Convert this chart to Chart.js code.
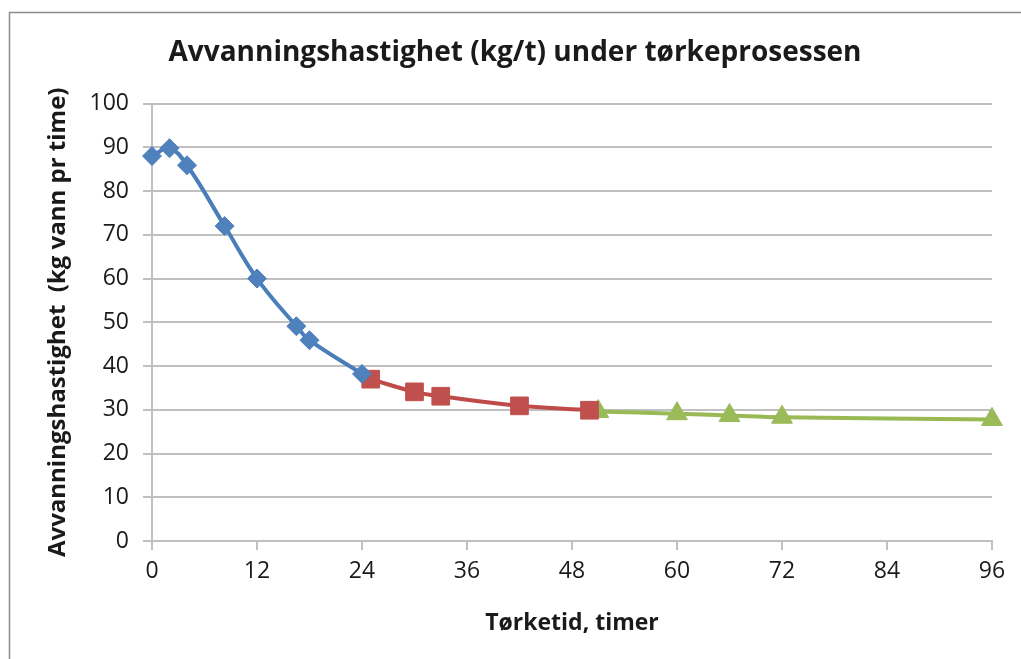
<!DOCTYPE html>
<html>
<head>
<meta charset="utf-8">
<script src="https://cdn.jsdelivr.net/npm/chart.js@4/dist/chart.umd.min.js"></script>
<style>
  html, body { margin: 0; padding: 0; background: #fff; }
  #wrap { width: 1021px; height: 659px; position: relative; }
</style>
</head>
<body>
<div id="wrap"><canvas id="chart" width="1021" height="659"></canvas></div>
<script>
// Fase 1: rask avvanning
const phase1Hours = [0, 2, 4, 8.3, 12, 16.5, 18, 24];
const phase1Rate = [88, 89.8, 85.9, 72, 60, 49.1, 45.9, 38.2];
// Fase 2
const phase2Hours = [25, 30, 33, 42, 50];
const phase2Rate = [37, 34.1, 33.1, 30.9, 29.9];
// Fase 3: nesten flat
const phase3Hours = [51, 60, 66, 72, 96];
const phase3Rate = [29.6, 29.1, 28.7, 28.3, 27.8];

const xTicks = [0, 12, 24, 36, 48, 60, 72, 84, 96];
const yTicks = [0, 10, 20, 30, 40, 50, 60, 70, 80, 90, 100];

const toPoints = (xs, ys) => xs.map((x, i) => ({ x, y: ys[i] }));

const fontFamily = '"Open Sans", Lato, sans-serif';
const gridColor = '#c0c0c0';
const textColor = '#1a1a1a';

const frame = {
  id: 'frame',
  beforeDraw(chart) {
    const { ctx } = chart;
    ctx.save();
    ctx.strokeStyle = '#8c8c8c';
    ctx.lineWidth = 1.5;
    ctx.beginPath();
    ctx.moveTo(9.5, 700);
    ctx.lineTo(9.5, 12.5);
    ctx.lineTo(1100, 12.5);
    ctx.stroke();
    ctx.restore();
  },
};

const ctx = document.getElementById('chart');

new Chart(ctx, {
  type: 'scatter',
  data: {
    datasets: [
      {
        label: 'Fase 1',
        data: toPoints(phase1Hours, phase1Rate),
        showLine: true,
        clip: false,
        borderColor: '#4A7EBB',
        backgroundColor: '#4F81BD',
        borderWidth: 4,
        tension: 0.4,
        pointStyle: 'rectRot',
        pointRadius: 9.5,
        pointBorderWidth: 1,
        pointBorderColor: '#4F81BD',
      },
      {
        label: 'Fase 2',
        data: toPoints(phase2Hours, phase2Rate),
        showLine: true,
        clip: false,
        borderColor: '#BE4B48',
        backgroundColor: '#C0504D',
        borderWidth: 4,
        tension: 0.4,
        pointStyle: 'rect',
        pointRadius: 12.5,
        pointBorderWidth: 1,
        pointBorderColor: '#C0504D',
      },
      {
        label: 'Fase 3',
        data: toPoints(phase3Hours, phase3Rate),
        showLine: true,
        clip: false,
        borderColor: '#98B954',
        backgroundColor: '#9BBB59',
        borderWidth: 4,
        tension: 0.4,
        pointStyle: 'triangle',
        pointRadius: 12,
        pointBorderWidth: 1,
        pointBorderColor: '#9BBB59',
      },
    ],
  },
  options: {
    responsive: false,
    animation: false,
    layout: { padding: { left: 38, right: 29, top: 0, bottom: 0 } },
    plugins: {
      legend: { display: false },
      tooltip: { enabled: false },
      title: {
        display: true,
        text: 'Avvanningshastighet (kg/t) under tørkeprosessen',
        color: textColor,
        font: { family: fontFamily, size: 28, weight: 'bold' },
        padding: { top: 36, bottom: 34 },
      },
    },
    scales: {
      x: {
        type: 'linear',
        min: 0,
        max: 96,
        afterBuildTicks: (scale) => { scale.ticks = xTicks.map((v) => ({ value: v })); },
        afterFit: (scale) => { scale.height = 118; },
        grid: { drawOnChartArea: false, drawTicks: true, tickLength: 9, color: gridColor, lineWidth: 2 },
        border: { color: gridColor, width: 2 },
        ticks: { color: textColor, font: { family: fontFamily, size: 23 }, padding: 8, maxRotation: 0 },
        title: {
          display: true,
          text: 'Tørketid, timer',
          color: textColor,
          font: { family: fontFamily, size: 23, weight: 'bold' },
          padding: { top: 0, bottom: 22 },
        },
      },
      y: {
        type: 'linear',
        min: 0,
        max: 100,
        afterBuildTicks: (scale) => { scale.ticks = yTicks.map((v) => ({ value: v })); },
        afterFit: (scale) => { scale.width = 152 - 38; },
        grid: { drawTicks: true, tickLength: 9, color: gridColor, lineWidth: 2 },
        border: { color: gridColor, width: 2 },
        ticks: { color: textColor, font: { family: fontFamily, size: 23 }, padding: 14 },
        title: {
          display: true,
          text: 'Avvanningshastighet  (kg vann pr time)',
          color: textColor,
          font: { family: fontFamily, size: 24, weight: 'bold' },
          padding: { top: 6, bottom: 0 },
        },
      },
    },
  },
  plugins: [frame],
});
</script>
</body>
</html>
